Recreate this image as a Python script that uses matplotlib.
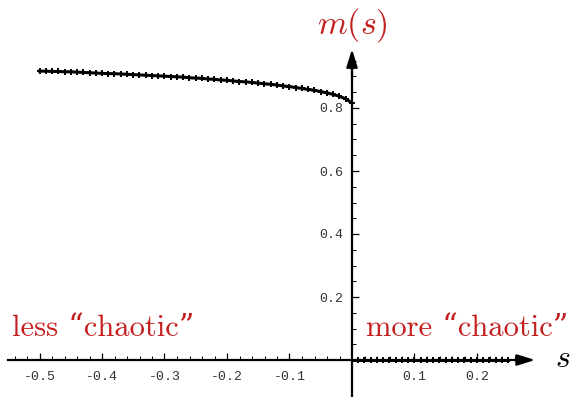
import matplotlib
matplotlib.use("Agg")
import matplotlib.pyplot as plt
import numpy as np

plt.rcParams['mathtext.fontset'] = 'cm'

s_left = [-0.50, -0.49, -0.48, -0.47, -0.46, -0.45, -0.44, -0.43, -0.42, -0.41,
          -0.40, -0.39, -0.38, -0.37, -0.36, -0.35, -0.34, -0.33, -0.32, -0.31,
          -0.30, -0.29, -0.28, -0.27, -0.26, -0.25, -0.24, -0.23, -0.22, -0.21,
          -0.20, -0.19, -0.18, -0.17, -0.16, -0.15, -0.14, -0.13, -0.12, -0.11,
          -0.10, -0.09, -0.08, -0.07, -0.06, -0.05, -0.04, -0.03, -0.02, -0.01, 0.00]
m_left = [0.917, 0.917, 0.916, 0.916, 0.915, 0.915, 0.914, 0.913, 0.912, 0.911,
          0.910, 0.909, 0.909, 0.908, 0.907, 0.906, 0.905, 0.904, 0.903, 0.902,
          0.901, 0.900, 0.899, 0.898, 0.896, 0.895, 0.894, 0.892, 0.891, 0.889,
          0.888, 0.886, 0.884, 0.883, 0.881, 0.879, 0.877, 0.875, 0.873, 0.870,
          0.868, 0.865, 0.862, 0.859, 0.856, 0.852, 0.848, 0.843, 0.837, 0.829, 0.816]
s_right = [0.00, 0.01, 0.02, 0.03, 0.04, 0.05, 0.06, 0.07, 0.08, 0.09, 0.10,
           0.11, 0.12, 0.13, 0.14, 0.15, 0.16, 0.17, 0.18, 0.19, 0.20,
           0.21, 0.22, 0.23, 0.24, 0.25]
m_right = [0.0] * len(s_right)

x_ticks = [-0.5, -0.4, -0.3, -0.2, -0.1, 0.1, 0.2]
x_ticklabels = ["-0.5", "-0.4", "-0.3", "-0.2", "-0.1", "0.1", "0.2"]
y_ticks = [0.2, 0.4, 0.6, 0.8]
y_ticklabels = ["0.2", "0.4", "0.6", "0.8"]

red = '#c41e1e'

fig = plt.figure(figsize=(5.70, 3.97), dpi=100)
ax = fig.add_axes([0, 0, 1, 1])
ax.set_xlim(-352/625, (570-352)/625)
ax.set_ylim(-37/315, 360/315)

for sp in ['top', 'right']:
    ax.spines[sp].set_visible(False)
ax.spines['left'].set_position('zero')
ax.spines['bottom'].set_position('zero')
ax.spines['left'].set_bounds(-0.2, 0.96)
ax.spines['bottom'].set_bounds(-0.55, 0.28)
ax.spines['left'].set_linewidth(1.6)
ax.spines['bottom'].set_linewidth(1.6)

astyle = '-|>,head_length=0.9,head_width=0.28'
ax.annotate('', xy=(0.293, 0), xytext=(0.26, 0),
            arrowprops=dict(arrowstyle=astyle, lw=1.6, color='k',
                            shrinkA=0, shrinkB=0, mutation_scale=12))
ax.annotate('', xy=(0, 0.987), xytext=(0, 0.90),
            arrowprops=dict(arrowstyle=astyle, lw=1.6, color='k',
                            shrinkA=0, shrinkB=0, mutation_scale=12))

ax.set_xticks(x_ticks)
ax.set_xticklabels(x_ticklabels)
ax.set_xticks(np.arange(-0.54, 0.27, 0.02), minor=True)
ax.set_yticks(y_ticks)
ax.set_yticklabels(y_ticklabels)
ax.set_yticks(np.arange(0.05, 0.96, 0.05), minor=True)
ax.tick_params(which='major', direction='in', length=5, width=0.9, pad=8, labelsize=9.5,
               labelcolor='#333333')
ax.tick_params(which='minor', direction='in', length=3, width=0.7)
ax.tick_params(axis='y', which='major', pad=6)
for lab in ax.get_xticklabels() + ax.get_yticklabels():
    lab.set_fontfamily('Liberation Mono')

ax.plot(s_left, m_left, color='k', lw=2.2, marker='+', ms=5, mew=1.4, zorder=5, clip_on=False)
ax.plot(s_right, m_right, color='k', lw=2.2, marker='+', ms=5, mew=1.4, zorder=5, clip_on=False)

ax.text(0.0, 1.065, r'$m(s)$', color=red, fontsize=24.5, ha='center', va='center')
ax.text(0.3375, 0.005, r'$s$', color='k', fontsize=23, ha='center', va='center')
ax.text(-0.544, 0.10, 'less \u201cchaotic\u201d', color=red, fontsize=22,
        family=['cmr10', 'DejaVu Serif'], ha='left', va='center')
ax.text(0.346, 0.10, 'more \u201cchaotic\u201d', color=red, fontsize=22,
        family=['cmr10', 'DejaVu Serif'], ha='right', va='center')

fig.savefig('out.png', dpi=100)
